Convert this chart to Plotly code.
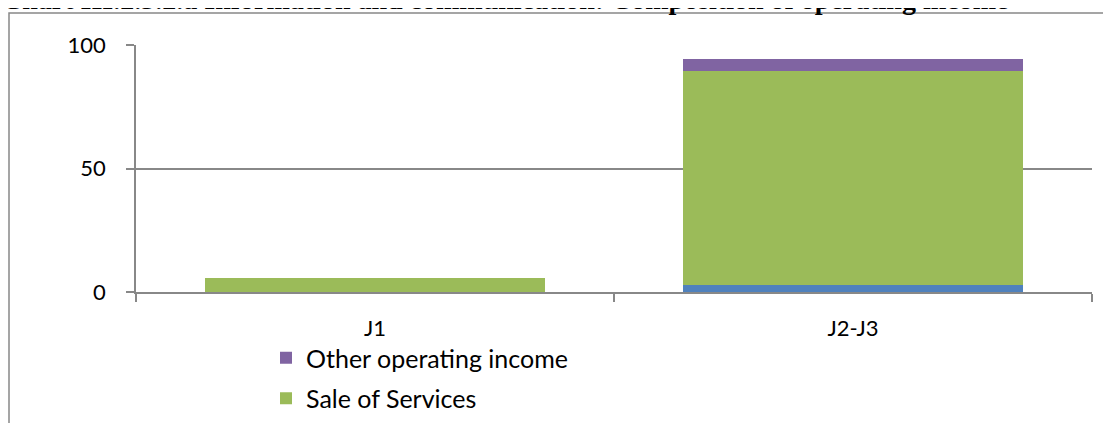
import plotly.graph_objects as go

# data
categories = ["J1", "J2-J3"]
sale_of_goods = [0.0, 2.7]
sale_of_services = [5.7, 86.9]
other_operating_income = [0.0, 4.9]

title_text = "Chart III.2.3.2.a Information and communication: Composition of operating income"

# the page puts the figure 8px in from the top-left corner
OFF = 8
W, H = 1111 - OFF, 423 - OFF
L, R, T, B = 136 - OFF, 19, 45 - OFF, 131
pw, ph = W - L - R, H - T - B


def px_x(x):
    # x in page pixels -> paper coordinate
    return (x - OFF - L) / pw


def px_y(y):
    return (H - B - (y - OFF)) / ph


GRID = "#888888"
FONT = "Lato, 'Open Sans', sans-serif"

fig = go.Figure()
fig.add_trace(go.Bar(x=categories, y=sale_of_goods, name="Sale of Goods",
                     marker=dict(color="#4F81BD", line=dict(width=0)),
                     showlegend=False, legendgroup="goods", legendrank=3))
fig.add_trace(go.Bar(x=categories, y=sale_of_services, name="Sale of Services",
                     marker=dict(color="#9BBB59", line=dict(width=0)),
                     legendgroup="services", legendrank=2))
fig.add_trace(go.Bar(x=categories, y=other_operating_income, name="Other operating income",
                     marker=dict(color="#8064A2", line=dict(width=0)),
                     legendgroup="other", legendrank=1))

fig.update_layout(
    width=W, height=H,
    barmode="stack", bargap=0.29,
    paper_bgcolor="white", plot_bgcolor="white",
    margin=dict(l=L, r=R, t=T, b=B, autoexpand=False),
    font=dict(family=FONT, size=22, color="black"),
    legend=dict(x=px_x(266), y=px_y(335), xanchor="left", yanchor="top",
                traceorder="grouped", tracegroupgap=5,
                bgcolor="rgba(0,0,0,0)", font=dict(size=25)),
    shapes=[dict(type="rect", xref="paper", yref="paper",
                 x0=px_x(9), x1=px_x(1200), y0=px_y(600), y1=px_y(13),
                 line=dict(color=GRID, width=1.5), layer="below")],
    annotations=[dict(text="<b>" + title_text + "</b>", xref="paper", yref="paper",
                      x=px_x(0), y=px_y(0), xanchor="left", yanchor="middle",
                      showarrow=False,
                      font=dict(family="'Liberation Serif', 'Times New Roman', serif",
                                size=28, color="black"))],
)

fig.update_yaxes(range=[0, 100], tickvals=[0, 50, 100], showgrid=True,
                 gridcolor=GRID, gridwidth=1.5, showline=True, linecolor=GRID,
                 linewidth=1.5, ticks="outside", ticklen=8, tickcolor=GRID,
                 tickwidth=1.5, ticklabelstandoff=16, zeroline=False)
fig.update_xaxes(showline=True, linecolor=GRID, linewidth=1.5, ticks="outside",
                 tickson="boundaries", ticklen=8, tickcolor=GRID, tickwidth=1.5,
                 ticklabelstandoff=16, showgrid=False)

fig.write_html("out.html")
